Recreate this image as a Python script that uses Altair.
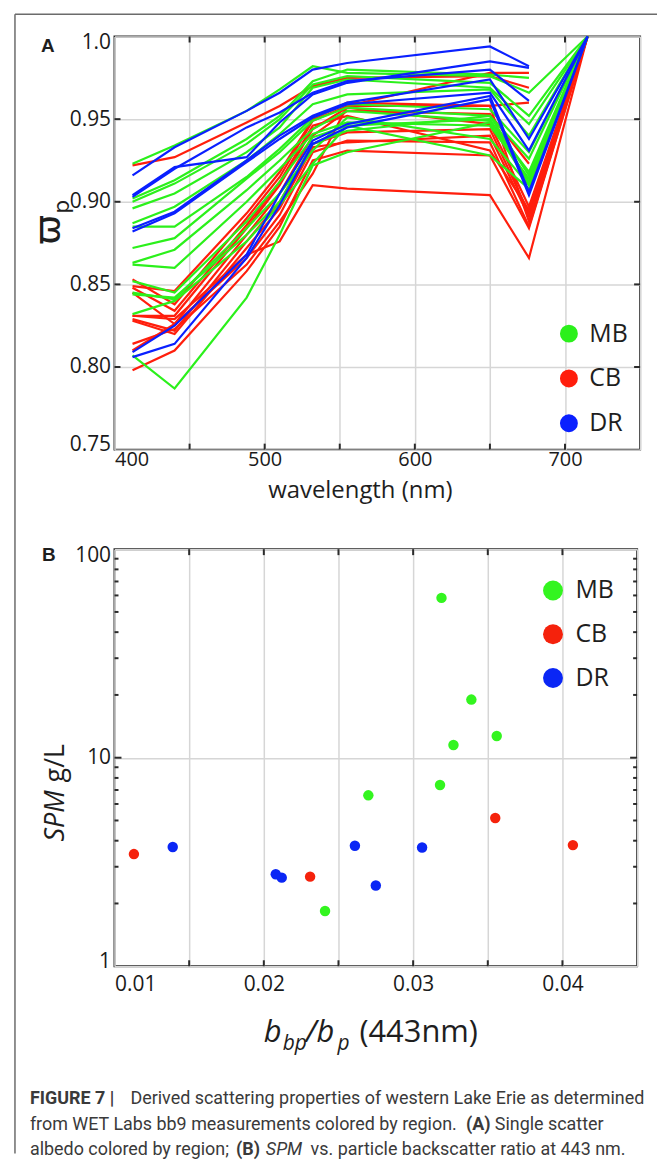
import altair as alt
import pandas as pd

# ---------------- data ----------------
WAVELENGTHS = [412, 440, 488, 510, 532, 555, 650, 676, 715]
REGIONS = ["MB", "CB", "DR"]
LINE_COLORS = ["#2bf01b", "#ff1e0c", "#0a20ff"]
POINT_COLORS = ["#33f51f", "#f5220c", "#0a26f5"]

CB_SPECTRA = [
    [0.922, 0.927, 0.948, 0.958, 0.970, 0.975, 0.976, 0.969, None],
    [0.853, 0.838, 0.890, 0.915, 0.949, 0.958, 0.978, 0.978, None],
    [0.849, 0.846, 0.893, 0.918, 0.950, 0.960, 0.958, 0.960, None],
    [0.845, 0.826, 0.880, 0.905, 0.940, 0.955, 0.953, 0.923, None],
    [0.831, 0.831, 0.884, 0.910, 0.944, 0.957, 0.947, 0.897, 1.0],
    [0.829, 0.822, 0.876, 0.900, 0.935, 0.942, 0.944, 0.893, 1.0],
    [0.828, 0.820, 0.872, 0.896, 0.933, 0.936, 0.940, 0.891, 1.0],
    [0.831, 0.829, 0.868, 0.876, 0.910, 0.908, 0.904, 0.866, 1.0],
    [0.814, 0.823, 0.862, 0.888, 0.917, 0.958, 0.958, 0.888, 1.0],
    [0.810, 0.826, 0.866, 0.892, 0.930, 0.937, 0.936, 0.885, 1.0],
    [0.798, 0.810, 0.858, 0.885, 0.925, 0.931, 0.928, 0.884, 1.0],
    [0.848, 0.834, 0.886, 0.912, 0.946, 0.952, 0.931, 0.895, 1.0],
]
MB_SPECTRA = [
    [0.923, 0.934, 0.955, 0.968, 0.982, 0.978, 0.976, 0.966, 1.0],
    [0.902, 0.913, 0.938, 0.952, 0.973, 0.980, 0.977, 0.975, None],
    [0.900, 0.911, 0.935, 0.950, 0.971, 0.976, 0.972, 0.952, 1.0],
    [0.896, 0.905, 0.930, 0.945, 0.969, 0.974, 0.969, 0.947, 1.0],
    [0.887, 0.897, 0.925, 0.941, 0.959, 0.965, 0.968, 0.940, 1.0],
    [0.885, 0.885, 0.915, 0.932, 0.951, 0.959, 0.956, 0.930, 1.0],
    [0.872, 0.878, 0.914, 0.930, 0.949, 0.957, 0.952, 0.926, 1.0],
    [0.863, 0.871, 0.907, 0.925, 0.944, 0.955, 0.949, 0.918, 1.0],
    [0.862, 0.860, 0.900, 0.920, 0.941, 0.948, 0.946, 0.914, 1.0],
    [0.852, 0.845, 0.888, 0.912, 0.939, 0.946, 0.950, 0.912, 1.0],
    [0.845, 0.841, 0.884, 0.905, 0.931, 0.951, 0.938, 0.910, 1.0],
    [0.832, 0.840, 0.876, 0.898, 0.923, 0.946, 0.928, 0.908, 1.0],
    [0.807, 0.787, 0.842, 0.880, 0.922, 0.930, 0.948, 0.911, 1.0],
    [0.844, 0.842, 0.880, 0.900, 0.935, 0.943, 0.952, 0.916, 1.0],
]
DR_SPECTRA = [
    [0.916, 0.933, 0.955, 0.966, 0.980, 0.984, 0.994, 0.982, None],
    [0.904, 0.921, 0.927, 0.948, 0.965, 0.972, 0.985, 0.981, None],
    [0.903, 0.920, 0.945, 0.954, 0.966, 0.973, 0.980, 0.961, None],
    [0.884, 0.894, 0.925, 0.940, 0.952, 0.960, 0.974, 0.938, 1.0],
    [0.882, 0.893, 0.924, 0.938, 0.951, 0.959, 0.966, 0.931, 1.0],
    [0.809, 0.825, 0.868, 0.905, 0.937, 0.947, 0.964, 0.906, 1.0],
    [0.806, 0.814, 0.866, 0.898, 0.935, 0.945, 0.962, 0.904, 1.0],
]

A_X_GRID = [400, 450, 500, 550, 600, 650, 700, 750]
A_X_TICKS = [450, 500, 550, 600, 650, 700]
A_Y_GRID = [0.75, 0.80, 0.85, 0.90, 0.95, 1.0]
A_Y_TICKS = [0.80, 0.85, 0.90, 0.95]

MB_RATIO = [0.0319, 0.0339, 0.0356, 0.0327, 0.0318, 0.0270, 0.0241]
MB_SPM = [58.4, 19.0, 12.7, 11.5, 7.4, 6.6, 1.84]
CB_RATIO = [0.0113, 0.0355, 0.0407, 0.0231]
CB_SPM = [3.45, 5.14, 3.81, 2.69]
DR_RATIO = [0.0139, 0.0261, 0.0306, 0.0208, 0.0212, 0.0275]
DR_SPM = [3.73, 3.78, 3.71, 2.76, 2.66, 2.44]

B_X_GRID = [0.01, 0.015, 0.02, 0.025, 0.03, 0.035, 0.04, 0.045]
B_X_TICKS = [0.015, 0.02, 0.025, 0.03, 0.035, 0.04]
B_Y_MAJOR = [1, 10, 100]
B_Y_MINOR = [2, 3, 4, 5, 6, 7, 8, 9, 20, 30, 40, 50, 60, 70, 80, 90]

LABEL_A = "A"
LABEL_B = "B"
A_XTITLE = "wavelength (nm)"
A_YTITLE_MAIN = "\u03d6"
A_YTITLE_SUB = "p"
B_YTITLE_IT = "SPM"
B_YTITLE_RM = "g/L"
B_XTITLE = ["b", "bp", "/b", "p", "(443nm)"]
CAPTION_1 = ["FIGURE 7 |", "Derived scattering properties of western Lake Erie as determined"]
CAPTION_2 = ["from WET Labs bb9 measurements colored by region.", "(A)", "Single scatter"]
CAPTION_3 = ["albedo colored by region;", "(B)", "SPM", "vs. particle backscatter ratio at 443 nm."]

# ---------------- tables ----------------
rows = []
for region, spectra in (("CB", CB_SPECTRA), ("MB", MB_SPECTRA), ("DR", DR_SPECTRA)):
    for i, s in enumerate(spectra):
        for wl, v in zip(WAVELENGTHS, s):
            if v is not None:
                rows.append({"series": f"{region}{i:02d}", "region": region, "wl": wl, "value": v})
df_lines = pd.DataFrame(rows)

pts = []
for region, xs, ys in (("MB", MB_RATIO, MB_SPM), ("CB", CB_RATIO, CB_SPM), ("DR", DR_RATIO, DR_SPM)):
    for x, y in zip(xs, ys):
        pts.append({"region": region, "ratio": x, "spm": y})
df_pts = pd.DataFrame(pts)

FONT = "Open Sans"
DARK = "#2b2b2b"
W_A, H_A = 528, 415
W_B, H_B = 525, 419

# scales and axes (shared by every layer of a panel)
SX_A = alt.Scale(domain=[400, 750], nice=False, zero=False)
SY_A = alt.Scale(domain=[0.75, 1.0], nice=False, zero=False)
AX_A = alt.Axis(values=A_X_GRID, title=None, labelOverlap=False, labelPadding=0, labelFontSize=20,
                labelExpr="datum.value % 100 == 0 && datum.value < 750 ? datum.value : ''")
AY_A = alt.Axis(values=A_Y_GRID, title=None, labelOverlap=False, labelFlush=True,
                labelFlushOffset=5, labelPadding=4,
                labelExpr="datum.value > 0.999 ? '1.0' : format(datum.value, '.2f')")
SX_B = alt.Scale(domain=[0.01, 0.045], nice=False, zero=False)
SY_B = alt.Scale(type="log", domain=[1, 100], nice=False)
AX_B = alt.Axis(values=B_X_GRID, title=None, labelOverlap=False, labelPadding=7,
                labelExpr="round(datum.value * 1000) % 10 == 0 && datum.value < 0.044 ? format(datum.value, '.2f') : ''")
AY_B = alt.Axis(values=B_Y_MAJOR, title=None, labelOverlap=False, labelFlush=True,
                labelFlushOffset=5, labelPadding=4, format="d")


def txt(s, x, y, size, weight="normal", style="normal", font=FONT, angle=0,
        align="left", baseline="alphabetic", color="#1e1e1e"):
    return alt.Chart(pd.DataFrame({"t": [s]})).mark_text(
        fontSize=size, fontWeight=weight, fontStyle=style, font=font, angle=angle,
        align=align, baseline=baseline, color=color
    ).encode(x=alt.value(x), y=alt.value(y), text="t:N")


def tick_x(df, field, scale, axis, y0, y1):
    return alt.Chart(df).mark_rule(color=DARK, strokeWidth=2).encode(
        x=alt.X(f"{field}:Q", scale=scale, axis=axis), y=alt.value(y0), y2=alt.value(y1))


def tick_y(df, field, scale, axis, x0, x1):
    return alt.Chart(df).mark_rule(color=DARK, strokeWidth=2).encode(
        y=alt.Y(f"{field}:Q", scale=scale, axis=axis), x=alt.value(x0), x2=alt.value(x1))


dummy = pd.DataFrame({"k": [0]})

# ---------------- panel A ----------------
lines = alt.Chart(df_lines).mark_line(strokeWidth=2.2).encode(
    x=alt.X("wl:Q", scale=SX_A, axis=AX_A),
    y=alt.Y("value:Q", scale=SY_A, axis=AY_A),
    color=alt.Color("region:N", scale=alt.Scale(domain=REGIONS, range=LINE_COLORS),
                    legend=alt.Legend(title=None, orient="none", legendX=444, legendY=286,
                                      symbolType="circle", symbolSize=81, symbolStrokeWidth=9,
                                      labelFontSize=25, labelFont=FONT, labelColor="#1e1e1e",
                                      rowPadding=0, labelOffset=8)),
    detail="series:N",
)

df_ax = pd.DataFrame({"wl": A_X_TICKS})
df_ay = pd.DataFrame({"value": A_Y_TICKS})

frame_left = alt.Chart(dummy).mark_rule(color="#6b6b6b", strokeWidth=1.5).encode(
    x=alt.value(-100), y=alt.value(-22.5), y2=alt.value(1122))
frame_top = alt.Chart(dummy).mark_rule(color="#6b6b6b", strokeWidth=1.5).encode(
    x=alt.value(-100), x2=alt.value(545), y=alt.value(-22.5))

panel_a = alt.layer(
    lines,
    tick_x(df_ax, "wl", SX_A, AX_A, 0, 6), tick_x(df_ax, "wl", SX_A, AX_A, H_A, H_A - 6),
    tick_y(df_ay, "value", SY_A, AY_A, 0, 6), tick_y(df_ay, "value", SY_A, AY_A, W_A, W_A - 6),
    frame_left, frame_top,
    txt(LABEL_A, -67, 10, 19, weight="bold", font="Liberation Sans", align="center", baseline="middle"),
    txt(A_XTITLE, 247, 457, 24, align="center", baseline="middle"),
    txt(A_YTITLE_MAIN, -66, 194, 36, font="DejaVu Sans", angle=270, align="center", baseline="middle"),
    txt(A_YTITLE_SUB, -53, 171, 22, font="DejaVu Sans", angle=270, align="center", baseline="middle"),
).properties(width=W_A, height=H_A)

# ---------------- panel B ----------------
points = alt.Chart(df_pts).mark_circle(size=110, opacity=1).encode(
    x=alt.X("ratio:Q", scale=SX_B, axis=AX_B),
    y=alt.Y("spm:Q", scale=SY_B, axis=AY_B),
    color=alt.Color("region:N", scale=alt.Scale(domain=REGIONS, range=POINT_COLORS),
                    legend=alt.Legend(title=None, orient="none", legendX=428, legendY=29,
                                      symbolType="circle", symbolSize=400,
                                      labelFontSize=25, labelFont=FONT, labelColor="#1e1e1e",
                                      rowPadding=18, labelOffset=10)),
)

df_bx = pd.DataFrame({"ratio": B_X_TICKS})
df_bmaj = pd.DataFrame({"spm": [10]})
df_bmin = pd.DataFrame({"spm": B_Y_MINOR})

CAP = "Roboto"
CAPC = "#3a3a3a"
CS = 18
panel_b = alt.layer(
    points,
    tick_x(df_bx, "ratio", SX_B, AX_B, 0, 6), tick_x(df_bx, "ratio", SX_B, AX_B, H_B, H_B - 6),
    tick_y(df_bmaj, "spm", SY_B, AY_B, 0, 7), tick_y(df_bmaj, "spm", SY_B, AY_B, W_B, W_B - 7),
    tick_y(df_bmin, "spm", SY_B, AY_B, 0, 4), tick_y(df_bmin, "spm", SY_B, AY_B, W_B, W_B - 4),
    txt(LABEL_B, -66, 6, 19, weight="bold", font="Liberation Sans", align="center", baseline="middle"),
    txt(B_YTITLE_RM, -59, 215, 27, angle=270, align="center", baseline="middle"),
    txt(B_YTITLE_IT, -59, 268, 27, style="italic", angle=270, align="center", baseline="middle"),
    txt(B_XTITLE[0], 150, 495, 31, style="italic"),
    txt(B_XTITLE[1], 169, 503, 21, style="italic"),
    txt(B_XTITLE[2], 192, 495, 31, style="italic"),
    txt(B_XTITLE[3], 224, 503, 21, style="italic"),
    txt(B_XTITLE[4], 246, 495, 31),
    txt(CAPTION_1[0], -85, 557, CS, weight="bold", font=CAP, color=CAPC),
    txt(CAPTION_1[1], 16, 557, CS, font=CAP, color=CAPC),
    txt(CAPTION_2[0], -85, 584, CS, font=CAP, color=CAPC),
    txt(CAPTION_2[1], 353, 584, CS, weight="bold", font=CAP, color=CAPC),
    txt(CAPTION_2[2], 382, 584, CS, font=CAP, color=CAPC),
    txt(CAPTION_3[0], -85, 609, CS, font=CAP, color=CAPC),
    txt(CAPTION_3[1], 122, 609, CS, weight="bold", font=CAP, color=CAPC),
    txt(CAPTION_3[2], 152, 609, CS, style="italic", font=CAP, color=CAPC),
    txt(CAPTION_3[3], 197, 609, CS, font=CAP, color=CAPC),
).properties(width=W_B, height=H_B)

chart = alt.vconcat(panel_a, panel_b, spacing=100, bounds="flush").resolve_scale(
    color="independent").resolve_legend(color="independent").properties(
    padding={"left": 5, "top": 1, "right": 0, "bottom": 0}
).configure_view(stroke=DARK, strokeWidth=2).configure_axis(
    domain=False, ticks=False, grid=True, gridColor="#d6d6d6", gridWidth=1.5,
    labelFont=FONT, labelFontSize=21, labelColor="#1a1a1a"
)

chart.save("out.html", embed_options={"renderer": "svg", "actions": False})
